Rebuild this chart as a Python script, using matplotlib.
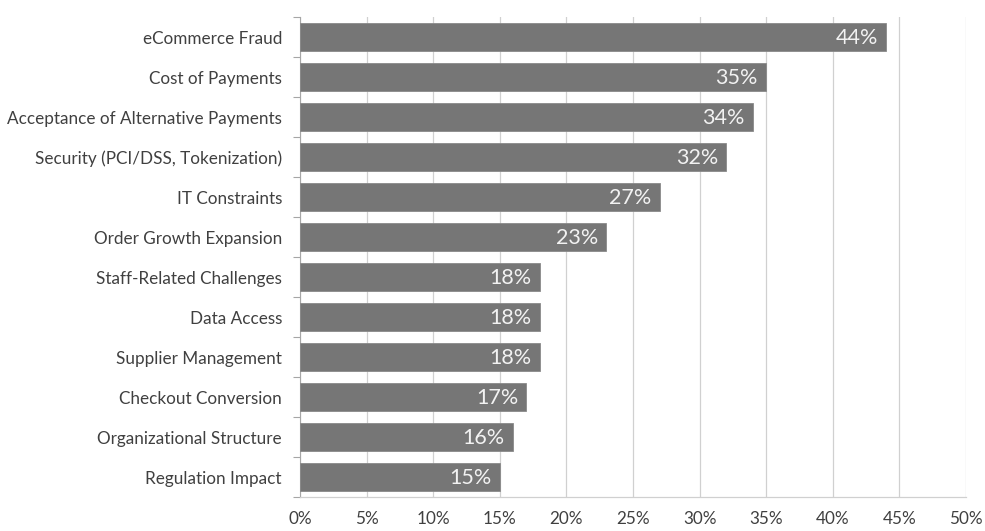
import matplotlib
matplotlib.use("Agg")
import matplotlib.pyplot as plt
import numpy as np

categories = [
    "eCommerce Fraud",
    "Cost of Payments",
    "Acceptance of Alternative Payments",
    "Security (PCI/DSS, Tokenization)",
    "IT Constraints",
    "Order Growth Expansion",
    "Staff-Related Challenges",
    "Data Access",
    "Supplier Management",
    "Checkout Conversion",
    "Organizational Structure",
    "Regulation Impact",
]
values = [44, 35, 34, 32, 27, 23, 18, 18, 18, 17, 16, 15]
x_ticks = [0, 5, 10, 15, 20, 25, 30, 35, 40, 45, 50]

plt.rcParams["font.family"] = ["Lato", "DejaVu Sans"]

fig = plt.figure(figsize=(9.85, 5.31), dpi=100)
ax = fig.add_axes([300 / 985, 1 - 497 / 531, 666 / 985, 480 / 531])

n = len(categories)
y = np.arange(n)
bar_color = "#767676"
ax.barh(y, values, height=0.68, color=bar_color, edgecolor="#8a8a8a", linewidth=0.6, zorder=3)

for yi, v in zip(y, values):
    ax.annotate(f"{v}%", xy=(v, yi), xytext=(-6, -1), textcoords="offset points",
                ha="right", va="center", color="#f2f2f2", fontsize=15.5, zorder=4)

ax.set_xlim(0, 50)
ax.set_ylim(n - 0.5, -0.5)
ax.set_xticks(x_ticks)
ax.set_xticklabels([f"{t}%" for t in x_ticks], fontsize=12.3, color="#404040")
ax.set_yticks(y)
ax.set_yticklabels(categories, fontsize=12.3, color="#404040")
ax.set_yticks(np.arange(-0.5, n, 1), minor=True)
ax.tick_params(axis="y", which="major", length=0, pad=13)
ax.tick_params(axis="y", which="minor", length=5, color="#a6a6a6", width=0.8)
ax.tick_params(axis="x", which="major", length=0, pad=10)

ax.grid(axis="x", color="#d0d0d0", linewidth=0.9, zorder=0)
ax.set_axisbelow(True)
for side in ["top", "right"]:
    ax.spines[side].set_visible(False)
ax.spines["left"].set_color("#a6a6a6")
ax.spines["left"].set_linewidth(0.8)
ax.spines["bottom"].set_color("#d0d0d0")
ax.spines["bottom"].set_linewidth(0.9)

fig.savefig("out.png", dpi=100)
